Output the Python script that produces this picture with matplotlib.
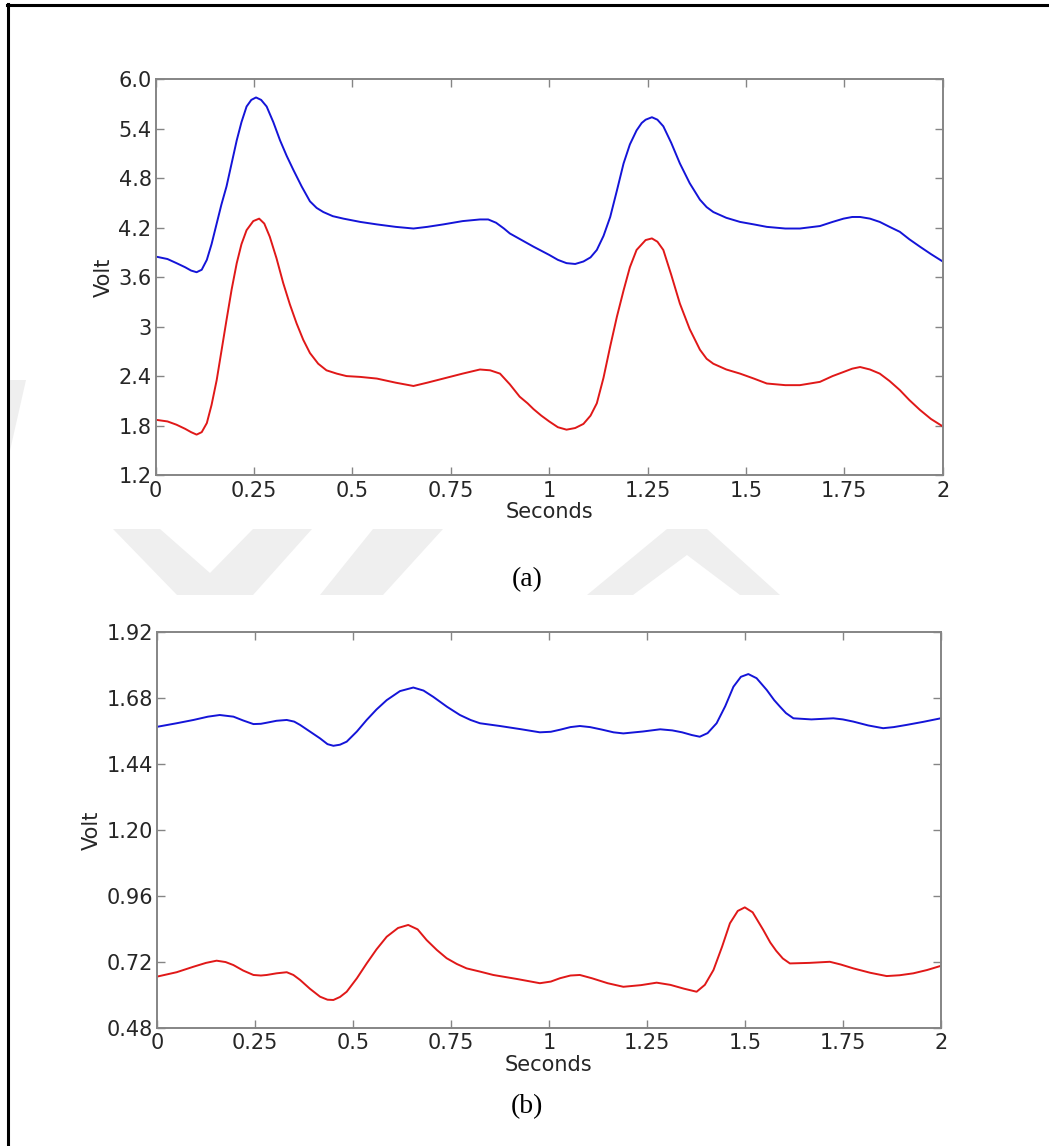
import matplotlib
matplotlib.use("Agg")
import matplotlib.pyplot as plt
from matplotlib.patches import Polygon
from matplotlib.lines import Line2D

# ---- data: sensor output voltages over two seconds ----
t_a_blue = [0.000, 0.030, 0.053, 0.075, 0.090, 0.104, 0.117, 0.130, 0.142, 0.155,
            0.167, 0.180, 0.193, 0.206, 0.218, 0.231, 0.243, 0.255, 0.268, 0.282,
            0.299, 0.316, 0.333, 0.350, 0.371, 0.392, 0.409, 0.426, 0.450, 0.477,
            0.520, 0.562, 0.610, 0.655, 0.690, 0.731, 0.780, 0.824, 0.845, 0.865,
            0.885, 0.900, 0.930, 0.960, 0.980, 1.000, 1.022, 1.044, 1.066, 1.087,
            1.105, 1.121, 1.138, 1.155, 1.172, 1.189, 1.205, 1.222, 1.235, 1.245,
            1.261, 1.275, 1.290, 1.310, 1.332, 1.357, 1.383, 1.400, 1.417, 1.450,
            1.485, 1.520, 1.553, 1.600, 1.637, 1.688, 1.720, 1.748, 1.770, 1.790,
            1.815, 1.840, 1.865, 1.891, 1.915, 1.942, 1.970, 2.000]
v_a_blue = [3.85, 3.82, 3.77, 3.72, 3.68, 3.66, 3.69, 3.81, 4.00, 4.25,
            4.48, 4.70, 4.98, 5.26, 5.48, 5.67, 5.75, 5.78, 5.75, 5.67,
            5.48, 5.26, 5.07, 4.90, 4.70, 4.52, 4.44, 4.39, 4.34, 4.31,
            4.27, 4.24, 4.21, 4.19, 4.21, 4.24, 4.28, 4.30, 4.30, 4.26,
            4.19, 4.13, 4.05, 3.97, 3.92, 3.87, 3.81, 3.77, 3.76, 3.79,
            3.84, 3.93, 4.10, 4.33, 4.65, 4.98, 5.21, 5.38, 5.47, 5.51,
            5.54, 5.51, 5.43, 5.23, 4.98, 4.74, 4.54, 4.45, 4.39, 4.32,
            4.27, 4.24, 4.21, 4.19, 4.19, 4.22, 4.27, 4.31, 4.33, 4.33,
            4.31, 4.27, 4.21, 4.15, 4.06, 3.97, 3.88, 3.79]

t_a_red = [0.000, 0.030, 0.053, 0.075, 0.090, 0.104, 0.117, 0.130, 0.142, 0.155,
           0.167, 0.180, 0.193, 0.206, 0.218, 0.231, 0.248, 0.263, 0.276, 0.290,
           0.307, 0.324, 0.341, 0.358, 0.375, 0.392, 0.413, 0.434, 0.460, 0.485,
           0.520, 0.562, 0.610, 0.655, 0.690, 0.731, 0.780, 0.824, 0.850, 0.875,
           0.900, 0.925, 0.945, 0.960, 0.980, 1.000, 1.022, 1.044, 1.066, 1.087,
           1.105, 1.121, 1.138, 1.155, 1.172, 1.189, 1.205, 1.222, 1.245, 1.261,
           1.275, 1.290, 1.310, 1.332, 1.357, 1.383, 1.400, 1.417, 1.450, 1.485,
           1.520, 1.553, 1.600, 1.637, 1.688, 1.720, 1.748, 1.770, 1.790, 1.815,
           1.840, 1.865, 1.891, 1.915, 1.942, 1.970, 2.000]
v_a_red = [1.87, 1.85, 1.81, 1.76, 1.72, 1.69, 1.72, 1.83, 2.05, 2.35,
           2.70, 3.08, 3.45, 3.77, 4.00, 4.17, 4.28, 4.31, 4.25, 4.09,
           3.83, 3.53, 3.27, 3.04, 2.84, 2.68, 2.55, 2.47, 2.43, 2.40,
           2.39, 2.37, 2.32, 2.28, 2.32, 2.37, 2.43, 2.48, 2.47, 2.43,
           2.30, 2.15, 2.07, 2.00, 1.92, 1.85, 1.78, 1.75, 1.77, 1.82,
           1.92, 2.07, 2.38, 2.76, 3.12, 3.44, 3.72, 3.93, 4.05, 4.07,
           4.03, 3.93, 3.63, 3.28, 2.97, 2.72, 2.61, 2.55, 2.48, 2.43,
           2.37, 2.31, 2.29, 2.29, 2.33, 2.40, 2.45, 2.49, 2.51, 2.48,
           2.43, 2.34, 2.23, 2.11, 1.99, 1.88, 1.79]

t_b_blue = [0.000, 0.050, 0.093, 0.130, 0.160, 0.195, 0.220, 0.246, 0.265, 0.280,
            0.305, 0.331, 0.350, 0.365, 0.390, 0.416, 0.435, 0.450, 0.467, 0.484,
            0.510, 0.535, 0.560, 0.586, 0.620, 0.654, 0.680, 0.705, 0.740, 0.773,
            0.800, 0.824, 0.875, 0.930, 0.977, 1.005, 1.030, 1.055, 1.079, 1.105,
            1.135, 1.165, 1.190, 1.240, 1.284, 1.315, 1.340, 1.365, 1.385, 1.405,
            1.428, 1.450, 1.471, 1.490, 1.509, 1.530, 1.556, 1.575, 1.590, 1.605,
            1.624, 1.670, 1.726, 1.750, 1.777, 1.815, 1.853, 1.880, 1.913, 1.955,
            2.000]
v_b_blue = [1.575, 1.588, 1.600, 1.612, 1.618, 1.612, 1.598, 1.585, 1.586, 1.590,
            1.597, 1.600, 1.594, 1.582, 1.558, 1.533, 1.512, 1.506, 1.510, 1.521,
            1.558, 1.600, 1.638, 1.672, 1.705, 1.718, 1.707, 1.684, 1.648, 1.618,
            1.600, 1.588, 1.578, 1.566, 1.555, 1.557, 1.565, 1.574, 1.578, 1.574,
            1.565, 1.555, 1.551, 1.558, 1.566, 1.562, 1.555, 1.545, 1.539, 1.552,
            1.588, 1.650, 1.721, 1.757, 1.767, 1.752, 1.709, 1.672, 1.648, 1.625,
            1.606, 1.602, 1.606, 1.602, 1.594, 1.580, 1.570, 1.574, 1.582, 1.593,
            1.606]

t_b_red = [0.000, 0.050, 0.093, 0.125, 0.152, 0.175, 0.195, 0.220, 0.246, 0.265,
           0.280, 0.305, 0.331, 0.348, 0.365, 0.390, 0.416, 0.435, 0.450, 0.467,
           0.484, 0.510, 0.535, 0.560, 0.586, 0.615, 0.641, 0.665, 0.688, 0.714,
           0.739, 0.765, 0.790, 0.825, 0.858, 0.920, 0.977, 1.005, 1.028, 1.055,
           1.079, 1.110, 1.150, 1.190, 1.235, 1.275, 1.310, 1.345, 1.377, 1.398,
           1.420, 1.442, 1.462, 1.482, 1.500, 1.520, 1.547, 1.565, 1.580, 1.597,
           1.615, 1.665, 1.717, 1.745, 1.777, 1.820, 1.862, 1.895, 1.930, 1.965,
           2.000]
v_b_red = [0.666, 0.682, 0.702, 0.716, 0.724, 0.719, 0.708, 0.688, 0.672, 0.670,
           0.672, 0.678, 0.682, 0.672, 0.654, 0.622, 0.593, 0.582, 0.581, 0.592,
           0.611, 0.660, 0.714, 0.765, 0.811, 0.843, 0.854, 0.838, 0.799, 0.763,
           0.733, 0.712, 0.696, 0.684, 0.672, 0.657, 0.642, 0.648, 0.660, 0.670,
           0.672, 0.660, 0.642, 0.629, 0.635, 0.644, 0.636, 0.622, 0.611, 0.636,
           0.690, 0.775, 0.860, 0.905, 0.918, 0.900, 0.836, 0.790, 0.760, 0.732,
           0.714, 0.716, 0.720, 0.710, 0.696, 0.680, 0.668, 0.671, 0.678, 0.690,
           0.705]

x_ticks = [0, 0.25, 0.5, 0.75, 1, 1.25, 1.5, 1.75, 2]
x_labels = ["0", "0.25", "0.5", "0.75", "1", "1.25", "1.5", "1.75", "2"]
y_ticks_a = [1.2, 1.8, 2.4, 3.0, 3.6, 4.2, 4.8, 5.4, 6.0]
y_labels_a = ["1.2", "1.8", "2.4", "3", "3.6", "4.2", "4.8", "5.4", "6.0"]
y_ticks_b = [0.48, 0.72, 0.96, 1.20, 1.44, 1.68, 1.92]
y_labels_b = ["0.48", "0.72", "0.96", "1.20", "1.44", "1.68", "1.92"]

W, H = 1049, 1146
fig = plt.figure(figsize=(W / 100, H / 100), dpi=100)
fig.patch.set_facecolor("white")


def px(x, y):
    # pixel position (origin top-left) -> figure fraction
    return (x / W, 1 - y / H)


# faint chevron marks behind the plots
mark_col = "#efefef"
shapes = [
    [(113, 529), (160, 529), (210, 573), (253, 529), (312, 529), (253, 595), (177, 595)],
    [(320, 595), (383, 595), (443, 529), (373, 529)],
    [(667, 529), (707, 529), (780, 595), (740, 595), (687, 555), (633, 595), (587, 595)],
    [(9, 380), (26, 380), (9, 455)],
]
for s in shapes:
    fig.patches.append(Polygon([px(*p) for p in s], closed=True, transform=fig.transFigure,
                               facecolor=mark_col, edgecolor="none", zorder=0))

# frame lines on the left and top
fig.add_artist(Line2D([8 / W, 8 / W], [0, 1 - 4 / H], transform=fig.transFigure, color="black", lw=2.2))
fig.add_artist(Line2D([7 / W, 1], [1 - 5 / H, 1 - 5 / H], transform=fig.transFigure, color="black", lw=2.2))

spine_col = "#858585"
text_col = "#262626"


def style(ax, yticks, ylabels, ymin, ymax):
    ax.set_xlim(0, 2)
    ax.set_ylim(ymin, ymax)
    ax.set_xticks(x_ticks)
    ax.set_xticklabels(x_labels)
    ax.set_yticks(yticks)
    ax.set_yticklabels(ylabels)
    for sp in ax.spines.values():
        sp.set_color(spine_col)
        sp.set_linewidth(1.4)
    ax.tick_params(direction="in", length=6, width=1.0, color=spine_col,
                   top=True, right=True, labelsize=15, labelcolor=text_col)
    ax.tick_params(axis="x", pad=4)
    ax.tick_params(axis="y", pad=3)
    ax.set_xlabel("Seconds", fontsize=15, color=text_col, labelpad=1)
    ax.set_ylabel("Volt", fontsize=15, color=text_col, labelpad=3)


ax1 = fig.add_axes([0.1484, 0.5855, 0.7503, 0.3453])
ax1.plot(t_a_blue, v_a_blue, color="#1414d8", lw=1.4)
ax1.plot(t_a_red, v_a_red, color="#e01818", lw=1.4)
style(ax1, y_ticks_a, y_labels_a, 1.2, 6.0)

ax2 = fig.add_axes([0.1497, 0.1032, 0.7471, 0.3453])
ax2.plot(t_b_blue, v_b_blue, color="#1414d8", lw=1.4)
ax2.plot(t_b_red, v_b_red, color="#e01818", lw=1.4)
style(ax2, y_ticks_b, y_labels_b, 0.48, 1.92)

fig.text(*px(527, 580), "(a)", family="Liberation Serif", fontsize=20, ha="center", va="center")
fig.text(*px(527, 1107), "(b)", family="Liberation Serif", fontsize=20, ha="center", va="center")

fig.savefig("out.png", dpi=100, facecolor="white")
